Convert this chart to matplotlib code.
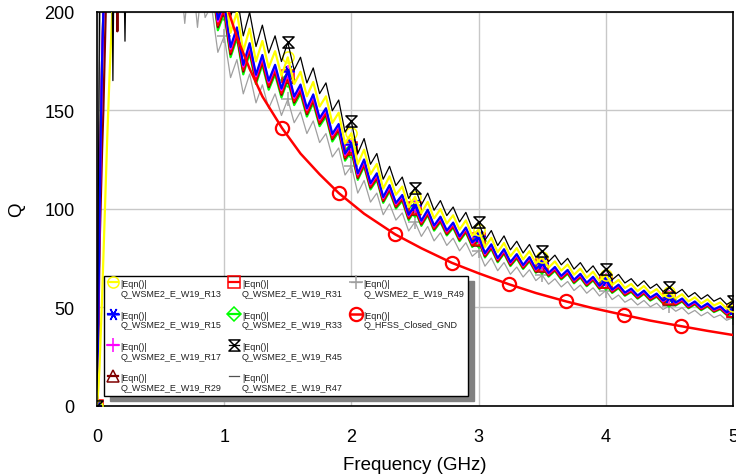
import numpy as np
import matplotlib
matplotlib.use("Agg")
import matplotlib.pyplot as plt
from matplotlib.path import Path
from matplotlib.lines import Line2D
from matplotlib.legend_handler import HandlerLine2D

plt.rcParams["font.family"] = ["Liberation Sans", "DejaVu Sans"]

# ---------------- data ----------------
# low-frequency part (below the ripple region), shared by most series
freq_lo = [0.0, 0.005, 0.01, 0.02, 0.03, 0.04, 0.05, 0.06, 0.08, 0.10, 0.13,
           0.16, 0.20, 0.25, 0.30, 0.40, 0.50, 0.60, 0.70, 0.80, 0.85]
q_lo = [0, 20, 45, 95, 140, 175, 200, 220, 245, 258, 265,
        266, 264, 260, 256, 250, 245, 240, 236, 230, 226]

freq_lo_r13 = [0.0, 0.01, 0.02, 0.04, 0.06, 0.08, 0.10, 0.12, 0.14, 0.20,
               0.30, 0.50, 0.70, 0.85]
q_lo_r13 = [0, 8, 20, 55, 95, 135, 170, 200, 225, 250, 255, 248, 238, 230]

freq_lo_r29 = [0.0, 0.01, 0.02, 0.04, 0.05, 0.08, 0.12, 0.15, 0.16, 0.17,
               0.25, 0.50, 0.70, 0.85]
q_lo_r29 = [0, 35, 80, 130, 150, 230, 262, 262, 190, 262, 258, 244, 235, 226]

freq_lo_r45 = [0.0, 0.005, 0.01, 0.015, 0.02, 0.04, 0.08, 0.11, 0.125, 0.14,
               0.20, 0.22, 0.24, 0.30, 0.50, 0.70, 0.85]
q_lo_r45 = [0, 40, 105, 150, 210, 250, 280, 275, 165, 270,
            270, 185, 270, 265, 258, 248, 240]

freq_lo_r49 = [0.0, 0.004, 0.008, 0.015, 0.03, 0.05, 0.10, 0.20, 0.40, 0.60,
               0.66, 0.69, 0.72, 0.76, 0.79, 0.82, 0.85]
q_lo_r49 = [0, 60, 117, 160, 210, 240, 250, 245, 235, 225,
            215, 194, 215, 212, 192, 212, 197]

# ripple region 0.90 .. 5.00 GHz, reference trace (R15)
freq_hi = np.round(np.arange(0.90, 5.0001, 0.05), 2)
q_hi_r15 = [222, 196, 205, 182, 192, 173, 184, 168, 178, 165, 173, 161,
            170, 157, 163, 151, 158, 146, 151, 138, 143, 128, 133, 118,
            125, 113, 118, 106, 112, 103, 107, 97, 102, 94, 99.5, 91.5,
            96, 89, 93, 86, 90.5, 83, 86, 77.5, 82, 75, 79.5, 73,
            77, 71.5, 75.5, 69.5, 72.5, 67.5, 70.5, 66, 69, 64, 67, 62.5,
            65.5, 61, 64, 59, 61.5, 57.5, 59.5, 56, 58.5, 55, 57, 53.5,
            55.5, 52.5, 54.5, 51, 53, 50, 52, 49, 50.5, 47.5, 49]

series = ["R13", "R15", "R17", "R29", "R31", "R33", "R45", "R47", "R49"]
series_scale = [1.04, 1.0, 0.995, 0.98, 0.985, 0.972, 1.085, 0.99, 0.915]
series_color = ["#FFFF00", "#0000FF", "#FF00FF", "#800000", "#FF0000",
                "#00FF00", "#000000", "#505050", "#A0A0A0"]
series_lw = [1.6, 1.6, 1.6, 1.6, 1.6, 1.6, 0.9, 0.9, 0.9]
series_z = [2.6, 2.5, 2.4, 2.2, 2.3, 2.1, 2.7, 2.05, 2.0]

marker_freq = [0.0, 0.5, 1.0, 1.5, 2.0, 2.5, 3.0, 3.5, 4.0, 4.5, 5.0]

hfss_freq = [0.98, 1.1, 1.2, 1.3, 1.454, 1.6, 1.75, 1.9, 2.1, 2.345, 2.55,
             2.79, 3.0, 3.24, 3.45, 3.69, 3.9, 4.14, 4.35, 4.59, 4.8, 5.0]
hfss_q = [211, 187, 171, 157, 141, 128, 117.5, 108, 97.5, 87, 80,
          72.6, 67.3, 61.7, 57.3, 53, 49.6, 46.2, 43.3, 40.5, 38.1, 36]
hfss_mark_idx = [4, 7, 9, 11, 13, 15, 17, 19]

low_parts = {
    "R13": (freq_lo_r13, q_lo_r13),
    "R29": (freq_lo_r29, q_lo_r29),
    "R45": (freq_lo_r45, q_lo_r45),
    "R49": (freq_lo_r49, q_lo_r49),
}

hourglass = Path([(-1, 1), (1, 1), (-1, -1), (1, -1), (-1, 1)],
                 [Path.MOVETO, Path.LINETO, Path.LINETO, Path.LINETO,
                  Path.CLOSEPOLY])
marker_style = {
    "R13": dict(marker="o", ms=8),
    "R15": dict(marker=(6, 2, 30), ms=9),
    "R17": dict(marker="+", ms=10),
    "R29": dict(marker="^", ms=8),
    "R31": dict(marker="s", ms=8),
    "R33": dict(marker="D", ms=7),
    "R45": dict(marker=hourglass, ms=8),
    "R47": dict(marker="None", ms=0),
    "R49": dict(marker="+", ms=10),
}


class FirstLineHandler(HandlerLine2D):
    # put the legend symbol next to the first of the two label lines
    def create_artists(self, legend, orig_handle, xdescent, ydescent,
                       width, height, fontsize, trans):
        return super().create_artists(legend, orig_handle, xdescent,
                                      ydescent - 10, width, height,
                                      fontsize, trans)


# ---------------- figure ----------------
fig = plt.figure(figsize=(7.36, 4.77), dpi=100)
ax = fig.add_axes([97 / 736, 1 - 407 / 477, 636 / 736, 394.4 / 477])

handles = []
for name, sc, col, lw, z in zip(series, series_scale, series_color,
                                series_lw, series_z):
    f_lo, q_l = low_parts.get(name, (freq_lo, q_lo))
    f = np.concatenate([f_lo, freq_hi])
    q = np.concatenate([q_l, np.array(q_hi_r15) * sc])
    idx = [int(np.argmin(np.abs(f - m))) for m in marker_freq]
    st = marker_style[name]
    h, = ax.plot(f, q, color=col, lw=lw, marker=st["marker"], ms=st["ms"],
                 markevery=idx, mfc="none", mec=col, mew=1.1, zorder=z,
                 solid_joinstyle="round",
                 label="|Eqn()|\nQ_WSME2_E_W19_" + name)
    handles.append(h)

h, = ax.plot(hfss_freq, hfss_q, color="#FF0000", lw=1.8, marker="o", ms=9.5,
             mfc="none", mec="#FF0000", mew=1.6, markevery=hfss_mark_idx,
             zorder=2.8, label="|Eqn()|\nQ_HFSS_Closed_GND")
handles.append(h)

# two empty slots so the legend columns hold 4 / 4 / 2 entries
for _ in range(2):
    handles.append(Line2D([], [], color="none", label=" "))

ax.set_xlim(0, 5)
ax.set_ylim(0, 200)
ax.set_xticks([0, 1, 2, 3, 4, 5])
ax.set_yticks([0, 50, 100, 150, 200])
ax.grid(True, color="#C8C8C8", lw=1.0)
ax.set_axisbelow(True)
ax.tick_params(length=0, labelsize=13, pad=16)
for s in ax.spines.values():
    s.set_linewidth(1.2)
    s.set_color("black")
ax.set_xlabel("Frequency (GHz)", fontsize=13.5, labelpad=8)
ax.set_ylabel("Q", fontsize=13.5, labelpad=14)

leg = ax.legend(handles=handles, ncol=3, loc="upper left",
                bbox_to_anchor=(0.011, 0.33), fontsize=6.5,
                handlelength=1.1, handletextpad=0.3, columnspacing=0.9,
                labelspacing=1.4, borderpad=0.4, borderaxespad=0,
                fancybox=False, edgecolor="black", framealpha=1,
                shadow={"color": "#808080", "alpha": 1, "ox": 4, "oy": -4},
                handler_map={Line2D: FirstLineHandler()})
leg.get_frame().set_linewidth(1.0)
for t in leg.get_texts():
    t.set_linespacing(1.1)
    t.set_color("#202020")

fig.savefig("out.png", dpi=100)
